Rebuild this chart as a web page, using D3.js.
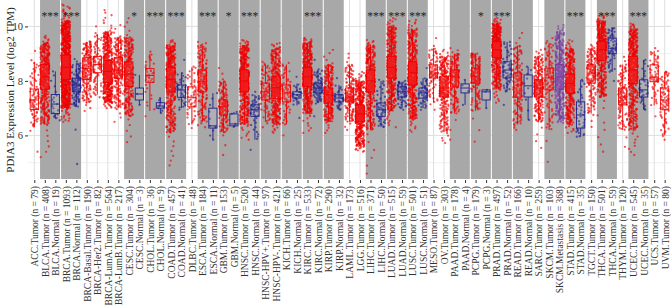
<!DOCTYPE html>
<html><head><meta charset="utf-8">
<script src="https://cdn.jsdelivr.net/npm/d3@7"></script>
<style>body{margin:0;background:#fff} svg{display:block}</style>
</head><body><svg id="c" width="671" height="306"></svg>
<script>
const categories = ["ACC.Tumor","BLCA.Tumor","BLCA.Normal","BRCA.Tumor","BRCA.Normal","BRCA-Basal.Tumor","BRCA-Her2.Tumor","BRCA-LumA.Tumor","BRCA-LumB.Tumor","CESC.Tumor","CESC.Normal","CHOL.Tumor","CHOL.Normal","COAD.Tumor","COAD.Normal","DLBC.Tumor","ESCA.Tumor","ESCA.Normal","GBM.Tumor","GBM.Normal","HNSC.Tumor","HNSC.Normal","HNSC-HPV+.Tumor","HNSC-HPV-.Tumor","KICH.Tumor","KICH.Normal","KIRC.Tumor","KIRC.Normal","KIRP.Tumor","KIRP.Normal","LAML.Tumor","LGG.Tumor","LIHC.Tumor","LIHC.Normal","LUAD.Tumor","LUAD.Normal","LUSC.Tumor","LUSC.Normal","MESO.Tumor","OV.Tumor","PAAD.Tumor","PAAD.Normal","PCPG.Tumor","PCPG.Normal","PRAD.Tumor","PRAD.Normal","READ.Tumor","READ.Normal","SARC.Tumor","SKCM.Tumor","SKCM.Metastasis","STAD.Tumor","STAD.Normal","TGCT.Tumor","THCA.Tumor","THCA.Normal","THYM.Tumor","UCEC.Tumor","UCEC.Normal","UCS.Tumor","UVM.Tumor"];
const sampleSizes = [79,408,19,1093,112,190,82,564,217,304,3,36,9,457,41,48,184,11,153,5,520,44,97,421,66,25,533,72,290,32,173,516,371,50,515,59,501,51,87,303,178,4,179,3,497,52,166,10,259,103,368,415,35,150,501,59,120,545,35,57,80];
const minVals = [5.4,5.2,6.55,6.5,4.95,6.9,7.4,7.0,6.5,5.75,7.12,6.7,6.82,4.9,6.94,6.27,6.3,5.84,5.28,6.31,5.84,5.47,6.3,6.09,6.0,6.64,6.09,6.7,6.09,6.94,6.2,5.4,4.6,6.31,6.3,6.94,6.13,6.94,6.94,5.72,5.84,7.12,5.77,7.0,7.2,7.12,6.2,6.57,5.54,5.03,6.46,6.09,5.95,6.31,5.4,8.0,5.58,5.28,6.94,6.7,5.84];
const loVals = [6.3,6.4,6.6,7.0,7.05,7.2,7.5,7.2,7.0,6.7,7.12,6.9,6.82,6.1,7.0,6.4,6.5,5.84,6.1,6.31,6.4,5.84,6.5,6.4,6.4,7.1,6.8,7.2,6.5,6.94,6.5,5.6,6.2,6.31,6.9,7.0,6.6,7.0,7.2,6.13,6.8,7.12,6.9,7.0,7.7,7.6,6.4,6.57,6.5,6.2,6.6,6.4,5.95,6.8,7.4,8.33,6.2,6.2,6.94,7.1,6.0];
const q1Vals = [6.95,7.7,6.8,8.05,7.6,8.05,8.3,7.95,8.1,7.8,7.3,7.95,7.0,7.6,7.4,7.05,7.6,6.27,6.75,6.35,7.6,6.7,7.3,7.35,7.23,7.37,7.8,7.56,7.19,7.23,7.23,6.5,7.6,6.7,8.1,7.41,7.85,7.37,8.11,7.41,7.78,7.56,7.92,7.3,8.85,8.11,7.41,7.41,7.41,7.67,7.7,7.55,6.27,7.92,8.75,9.0,7.12,7.9,7.41,7.97,6.94];
const medVals = [7.3,8.15,7.15,8.5,7.85,8.45,8.6,8.35,8.4,8.25,7.52,8.2,7.08,8.05,7.67,7.4,7.97,6.35,7.05,6.42,8.0,6.94,7.6,7.75,7.56,7.49,8.15,7.74,7.49,7.37,7.41,6.79,8.0,6.94,8.5,7.6,8.3,7.56,8.29,7.74,8.15,7.74,8.18,7.6,9.14,8.4,7.85,7.82,7.74,8.11,8.15,7.9,6.75,8.29,9.14,9.2,7.41,8.4,7.67,8.14,7.3];
const q3Vals = [7.7,8.6,7.5,8.95,8.1,8.85,8.9,8.75,8.85,8.7,7.74,8.45,7.2,8.5,7.85,7.78,8.4,7.0,7.3,6.79,8.4,7.12,7.92,8.15,7.85,7.6,8.5,7.92,7.74,7.49,7.74,7.12,8.4,7.19,8.9,7.78,8.7,7.74,8.59,8.15,8.4,7.89,8.47,7.67,9.45,8.7,8.29,8.22,8.04,8.47,8.6,8.25,7.23,8.59,9.45,9.57,7.74,8.9,8.04,8.59,7.74];
const hiVals = [8.7,9.4,8.35,10.2,8.65,9.4,9.7,9.8,9.6,9.6,8.22,9.0,7.37,9.3,8.3,8.5,9.3,7.55,8.0,6.86,9.3,7.49,8.6,9.2,8.6,7.9,9.4,8.4,8.6,7.85,8.6,8.0,9.3,8.0,10.0,7.97,9.9,8.1,9.2,8.9,9.0,8.04,9.0,7.67,10.1,9.43,9.3,8.52,8.9,9.4,9.8,9.2,8.04,9.2,10.2,9.94,8.6,9.9,8.77,9.1,8.33];
const maxVals = [9.1,9.65,8.35,10.8,8.8,9.45,10.0,10.6,10.05,10.3,8.22,9.07,7.37,9.5,8.77,8.52,9.43,7.55,8.47,6.86,9.5,7.6,8.7,9.39,8.66,8.15,9.57,8.77,9.14,8.1,9.0,8.33,9.5,8.04,10.3,8.0,10.24,8.47,9.57,9.14,9.2,8.04,9.0,7.67,10.3,9.43,9.76,8.52,9.14,9.57,10.05,9.5,8.04,9.32,10.42,9.94,8.88,10.1,8.77,9.2,8.33];
const pairStarts = [2,4,10,12,14,17,19,21,23,25,27,29,33,35,37,41,43,45,47,50,52,55,58];
const pairStars = ["***","***","*","***","***","***","*","***","","","***","","***","***","***","","*","***","","","***","***","***"];
const yTicks = [6,8,10];
const yMinor = [5,7,9];
const yTitle = "PDIA3 Expression Level (log2 TPM)";

const svg = d3.select("#c");
const L = 28, R = 671, T = 0, B = 179;
const x = d3.scaleLinear().domain([0.4, categories.length + 0.6]).range([L, R]);
const y = d3.scaleLinear().domain([4.4, 10.97]).range([B, T]);
const bw = x(2) - x(1);
const colorOf = name => name.endsWith(".Normal") ? "#20208c" : (name.indexOf("Metastasis") >= 0 ? "#7a3aa0" : "#f00000");
// deterministic hash used only for horizontal jitter placement
function hash01(a) {
  a = (a ^ 61) ^ (a >>> 16); a = a + (a << 3); a = a ^ (a >>> 4);
  a = Math.imul(a, 0x27d4eb2d); a = a ^ (a >>> 15);
  return (a >>> 0) / 4294967296;
}

const g = svg.append("g");
g.selectAll(".hmaj").data(yTicks).join("line")
  .attr("x1", L).attr("x2", R).attr("y1", d => y(d)).attr("y2", d => y(d))
  .attr("stroke", "#dedede").attr("stroke-width", 1);
g.selectAll(".hmin").data(yMinor).join("line")
  .attr("x1", L).attr("x2", R).attr("y1", d => y(d)).attr("y2", d => y(d))
  .attr("stroke", "#e6e6e6").attr("stroke-width", 0.6);
g.selectAll(".vmaj").data(categories).join("line")
  .attr("x1", (d, i) => x(i + 1)).attr("x2", (d, i) => x(i + 1)).attr("y1", T).attr("y2", B)
  .attr("stroke", "#dedede").attr("stroke-width", 1);

g.selectAll(".panel").data(pairStarts).join("rect")
  .attr("x", d => x(d - 0.5) + 0.5).attr("width", d => x(d + 1.5) - x(d - 0.5) - 1)
  .attr("y", T).attr("height", B - T).attr("fill", "#a8a8a8");

const pts = g.append("g");
categories.forEach((name, i) => {
  const n = sampleSizes[i];
  const knotsP = [0, 0.015, 0.25, 0.5, 0.75, 0.985, 1];
  const knotsV = [minVals[i], loVals[i], q1Vals[i], medVals[i], q3Vals[i], hiVals[i], maxVals[i]];
  const qf = d3.scaleLinear().domain(knotsP).range(knotsV);
  const col = colorOf(name);
  const data = [];
  for (let k = 0; k < n; k++) {
    const p = n === 1 ? 0.5 : k / (n - 1);
    const u = hash01(i * 7919 + k * 104729 + 17);
    data.push({v: qf(p), dx: (u - 0.5) * 0.85 * bw});
  }
  pts.append("g").selectAll("circle").data(data).join("circle")
    .attr("cx", d => x(i + 1) + d.dx).attr("cy", d => y(d.v)).attr("r", 1.15)
    .attr("fill", col).attr("fill-opacity", 0.65);
});

const boxes = g.append("g");
categories.forEach((name, i) => {
  const col = colorOf(name);
  const cx = x(i + 1), hw = 0.39 * bw;
  const gb = boxes.append("g").attr("stroke", col).attr("stroke-width", 0.9);
  gb.append("line").attr("x1", cx).attr("x2", cx).attr("y1", y(q3Vals[i])).attr("y2", y(hiVals[i]));
  gb.append("line").attr("x1", cx).attr("x2", cx).attr("y1", y(q1Vals[i])).attr("y2", y(loVals[i]));
  gb.append("rect").attr("x", cx - hw).attr("width", 2 * hw)
    .attr("y", y(q3Vals[i])).attr("height", y(q1Vals[i]) - y(q3Vals[i]))
    .attr("fill", "#fff").attr("fill-opacity", 0.1);
  gb.append("line").attr("x1", cx - hw).attr("x2", cx + hw).attr("y1", y(medVals[i])).attr("y2", y(medVals[i]));
});

g.selectAll(".star").data(pairStarts).join("text")
  .attr("x", d => x(d + 0.5)).attr("y", 19.5).attr("text-anchor", "middle")
  .attr("font-family", "Liberation Serif, serif").attr("font-size", 11.5).attr("fill", "#222")
  .text((d, j) => pairStars[j]);

const yAxis = d3.axisLeft(y).tickValues(yTicks).tickSize(3).tickPadding(2).tickFormat(d3.format("d"));
const ya = svg.append("g").attr("transform", `translate(${L},0)`).call(yAxis);
ya.select(".domain").remove();
ya.selectAll(".tick line").attr("stroke", "#333");
ya.selectAll(".tick text").attr("font-family", "Liberation Serif, serif").attr("font-size", 10.5).attr("fill", "#333");

const xAxis = d3.axisBottom(x).tickValues(d3.range(1, categories.length + 1)).tickSize(3).tickPadding(2)
  .tickFormat(d => `${categories[d - 1]} (n = ${sampleSizes[d - 1]})`);
const xa = svg.append("g").attr("transform", `translate(0,${B + 1})`).call(xAxis);
xa.select(".domain").remove();
xa.selectAll(".tick line").attr("stroke", "#333");
xa.selectAll(".tick text")
  .attr("font-family", "Liberation Serif, serif").attr("font-size", 9.5).attr("fill", "#333")
  .attr("text-anchor", "end").attr("transform", "rotate(-90)")
  .attr("x", -6).attr("y", 0).attr("dy", "0.35em");

svg.append("text").attr("transform", "translate(10,90) rotate(-90)")
  .attr("text-anchor", "middle").attr("dy", "0.35em")
  .attr("font-family", "Liberation Serif, serif").attr("font-size", 11).attr("fill", "#222")
  .text(yTitle);
</script></body></html>
